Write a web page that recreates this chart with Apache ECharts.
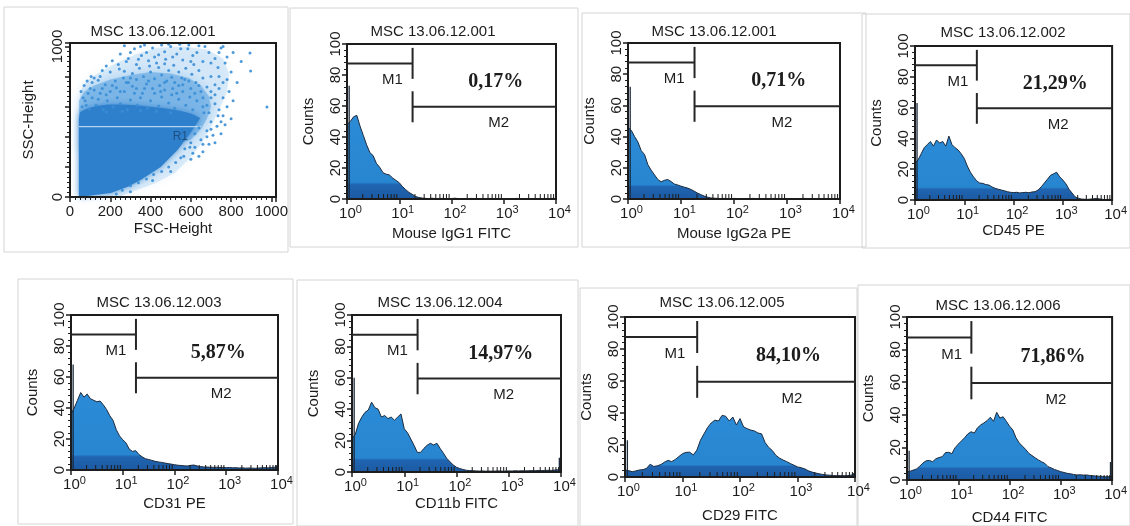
<!DOCTYPE html>
<html>
<head>
<meta charset="utf-8">
<script src="https://cdn.jsdelivr.net/npm/echarts@6/dist/echarts.min.js"></script>
<style>
  html, body { margin: 0; padding: 0; background: #ffffff; }
  #chart { width: 1130px; height: 526px; }
</style>
</head>
<body>
<div id="chart"></div>
<script>
// ---------- data ----------
// fluorescence channels, 16 per decade from 10^0 to 10^4
const channels = [
  1, 1.155, 1.334, 1.540, 1.778, 2.054, 2.371, 2.738, 3.162, 3.652, 4.217, 4.870, 5.623, 6.494, 7.499, 8.660,
  10, 11.55, 13.34, 15.40, 17.78, 20.54, 23.71, 27.38, 31.62, 36.52, 42.17, 48.70, 56.23, 64.94, 74.99, 86.60,
  100, 115.5, 133.4, 154.0, 177.8, 205.4, 237.1, 273.8, 316.2, 365.2, 421.7, 487.0, 562.3, 649.4, 749.9, 866.0,
  1000, 1155, 1334, 1540, 1778, 2054, 2371, 2738, 3162, 3652, 4217, 4870, 5623, 6494, 7499, 8660,
  10000
];

const countsIgG1 = [
  48, 50, 53, 54, 47, 41, 35, 30, 28, 23, 20.5, 17, 16, 15.5, 13.5, 12,
  10.5, 8, 6, 4.2, 3, 1.6, 1, 0.6, 0.4, 0.3, 0.5, 0.3, 0.2, 0.4, 0.3, 0.2,
  0.3, 0.5, 0.3, 0.2, 0.3, 0.2, 0.4, 0.3, 0.2, 0.3, 0.2, 0.3, 0.4, 0.2, 0.3, 0.2,
  0.3, 0.2, 0.3, 0.2, 0.4, 0.2, 0.3, 0.2, 0.3, 0.2, 0.3, 0.2, 0.3, 0.2, 0.3, 0.4,
  0.3
];
const countsIgG2a = [
  46, 44, 40, 36.5, 31, 28.5, 22, 18.5, 15.5, 12.5, 11, 12, 12.5, 11.2, 9.6, 9,
  8.2, 7.6, 7, 6.1, 5, 3.8, 2.8, 1.9, 1.2, 0.7, 0.5, 0.4, 0.3, 0.4, 0.3, 0.2,
  0.4, 0.3, 0.2, 0.3, 0.2, 0.3, 0.4, 0.2, 0.3, 0.2, 0.3, 0.2, 0.4, 0.3, 0.2, 0.3,
  0.2, 0.3, 0.2, 0.3, 0.2, 0.4, 0.3, 0.2, 0.3, 0.2, 0.3, 0.2, 0.3, 0.2, 0.3, 0.2,
  0.3
];
const countsCD45 = [
  24, 26, 30, 34, 36, 38, 35, 39, 37, 38, 35, 41.5, 36, 34, 32.5, 30,
  27, 22, 18, 15, 12.5, 11, 10.8, 10, 9.7, 8.5, 7.6, 7, 6.5, 6, 5.4, 5,
  4.8, 5, 4.6, 4.8, 5, 4.7, 5.2, 5.4, 6.5, 8.6, 11, 13.5, 16, 17, 18, 15,
  13, 10.5, 7, 4.5, 2, 1.2, 0.6, 0.5, 0.4, 0.6, 0.8, 1, 0.7, 0.4, 0.3, 0.4,
  0.3
];
const countsCD31 = [
  36, 40, 45, 50, 47, 49, 46, 45, 44, 44.5, 42, 39, 35, 32, 26, 22,
  19.5, 17.5, 13.5, 12, 12.5, 10, 8.5, 7.3, 6.8, 6.2, 5.6, 5.2, 4.9, 4.5, 4.1, 3.8,
  3.4, 3.1, 2.9, 2.7, 2.6, 3.0, 3.2, 2.6, 2.2, 2.0, 1.9, 1.8, 1.7, 1.8, 1.6, 1.7,
  1.5, 1.6, 1.4, 1.5, 1.3, 1.4, 1.2, 1.3, 1.2, 1.1, 1.3, 1.4, 1.5, 1.4, 1.6, 1.8,
  2
];
const countsCD11b = [
  21, 24, 31, 35, 38, 39.5, 44.5, 41, 40, 35, 36, 34, 35, 33, 35, 37,
  27.5, 25, 21, 17, 12.5, 12.5, 15, 17, 18.3, 17.2, 18.3, 15, 12, 8.7, 6.5, 4.5,
  3, 2.2, 1.6, 1.1, 0.9, 0.8, 0.7, 0.6, 0.7, 0.5, 0.6, 0.5, 0.6, 0.7, 0.5, 0.6,
  0.7, 0.6, 0.8, 0.7, 0.8, 0.7, 0.8, 0.9, 0.8, 1.0, 0.9, 1.0, 1.1, 1.0, 1.2, 1.5,
  1.5
];
const countsCD29 = [
  4.4, 4, 3.3, 3.8, 4.4, 4.6, 5.4, 8, 6.6, 7, 7.8, 9.3, 10.4, 9.6, 11, 12.8,
  14.6, 15.4, 15.5, 13.8, 16.8, 23, 27, 31, 33.8, 35.5, 35, 38.5, 38, 35, 37.5, 32.5,
  36.5, 31.3, 30.2, 29.3, 28.8, 27.5, 27, 21.5, 18.5, 16.5, 13.5, 11.8, 10.6, 9.6, 8.4, 7.4,
  6.3, 5.8, 5.1, 3.9, 3.1, 2.5, 2.0, 1.6, 1.3, 1.1, 0.9, 0.8, 0.9, 0.8, 0.9, 1.2,
  1.9
];
const countsCD44 = [
  5, 5.4, 6.1, 6.8, 8.5, 10.5, 11.8, 12, 11.2, 13, 13.8, 14.3, 16.8, 17, 16.2, 19.8,
  22, 24, 26, 28.3, 29.6, 28.8, 32, 33.8, 35, 36.4, 38.5, 36, 41.5, 38, 38.8, 36,
  33, 30.8, 26, 22.8, 20.8, 18.8, 16.4, 15, 13.6, 12.3, 11.2, 10.2, 8.2, 7.4, 6.5, 5.8,
  5.1, 4.6, 4.1, 3.8, 3.4, 3.1, 3.2, 3.0, 3.1, 2.8, 2.6, 2.4, 2.3, 2.2, 2.0, 2.1,
  2.1
];

const histogramCounts = [countsIgG1, countsIgG2a, countsCD45, countsCD31, countsCD11b, countsCD29, countsCD44];
// pile-up in the first and last channel of each histogram
const firstChannelPeak = [73, 72, 63, 68, 60, 23, 18];
const lastChannelPeak = [0, 0, 0, 3, 9, 2.5, 11];

const sampleIds = [
  'MSC 13.06.12.001', 'MSC 13.06.12.001', 'MSC 13.06.12.001', 'MSC 13.06.12.002',
  'MSC 13.06.12.003', 'MSC 13.06.12.004', 'MSC 13.06.12.005', 'MSC 13.06.12.006'
];
const parameterNames = [
  'FSC-Height', 'Mouse IgG1 FITC', 'Mouse IgG2a PE', 'CD45 PE',
  'CD31 PE', 'CD11b FITC', 'CD29 FITC', 'CD44 FITC'
];
const positivePct = ['0,17%', '0,71%', '21,29%', '5,87%', '14,97%', '84,10%', '71,86%'];

// markers M1 / M2
const markerNames = ['M1', 'M2'];
const gateSplit = 18;
const m1Level = 87.5;
const m2Level = 59.5;

const decadeMinorTicks = [
  2, 3, 4, 5, 6, 7, 8, 9,
  20, 30, 40, 50, 60, 70, 80, 90,
  200, 300, 400, 500, 600, 700, 800, 900,
  2000, 3000, 4000, 5000, 6000, 7000, 8000, 9000
];

// FSC / SSC dot plot (0-1023 linear channels)
const coreOutline = [
  [44, 0], [203, 27], [290, 70], [351, 113], [450, 199], [534, 312], [598, 425], [647, 525],
  [600, 555], [540, 575], [470, 590], [400, 600], [330, 610], [260, 615], [190, 615],
  [130, 605], [80, 585], [50, 565], [44, 520]
];
const innerCloudOutline = [
  [44, 300], [44, 640], [70, 700], [120, 740], [200, 780], [300, 810], [400, 830], [500, 820],
  [590, 790], [650, 740], [690, 670], [700, 600], [680, 520], [650, 450], [600, 380], [400, 300]
];
const outerCloudOutline = [
  [44, 0], [44, 500], [50, 700], [80, 770], [150, 830], [230, 890], [330, 950], [430, 990],
  [560, 1000], [680, 980], [760, 920], [790, 820], [780, 700], [740, 580], [700, 470],
  [650, 350], [590, 250], [520, 160], [420, 90], [320, 40], [240, 0]
];
const sparseEvents = [
  [60,600],[75,640],[95,585],[110,660],[130,610],[150,690],[165,580],[185,640],[200,700],[215,600],
  [235,660],[250,620],[270,700],[285,580],[300,645],[320,690],[335,610],[350,660],[370,720],[385,590],
  [400,640],[420,690],[440,605],[455,665],[470,710],[490,625],[505,680],[520,590],[540,650],[560,700],
  [575,610],[595,665],[610,580],[630,640],[650,700],[120,710],[90,690],[230,725],[310,735],[445,740],
  [560,745],[680,610],[700,660],[665,560],[180,565],[260,570],[350,575],[430,570],[500,560],[140,650],
  [110,760],[150,800],[175,745],[200,830],[225,770],[245,850],[265,790],[290,760],[310,820],[330,780],
  [345,855],[365,800],[380,750],[400,830],[420,785],[440,860],[455,810],[470,760],[490,840],[505,795],
  [520,760],[540,830],[555,790],[575,855],[590,770],[605,815],[625,760],[640,840],[660,790],[680,730],
  [700,800],[720,745],[270,835],[395,870],[515,875],[615,880],[160,840],[330,880],[470,885],[735,860],
  [210,905],[250,950],[290,920],[320,985],[355,940],[390,905],[410,990],[440,945],[475,915],[500,1000],
  [530,950],[560,910],[585,985],[610,940],[640,1005],[660,900],[690,960],[720,920],[750,990],[780,930],
  [270,1005],[455,1010],[545,1015],[810,960],[370,1010],
  [660,600],[690,560],[720,620],[740,580],[700,500],[730,470],[760,540],[680,440],[710,410],[650,380],
  [690,350],[620,330],[660,300],[750,420],[780,600],[800,520],[770,480],[720,360],[640,270],[600,250],
  [230,20],[260,45],[300,75],[340,95],[380,120],[415,150],[455,170],[490,200],[525,230],[565,270],
  [595,330],[300,35],[410,110],[500,170],
  [894,956],[978,598],[897,837],[760,1000],[850,900],
  [180,870],[240,880],[280,900],[340,915],[380,960],[420,930],[470,965],[510,930],[550,985],[600,900],
  [630,960],[670,1000],[700,890],[740,960],[770,890],[300,960],[350,1000],[490,1015],[590,1010],[430,890],
  [700,700],[740,720],[760,660],[790,700],[780,780],[740,800],[810,640],[760,760],[720,680],[800,830],
  [830,760],[700,450],[750,500],[735,540],
  [55,700],[70,740],[85,770],[100,720],[120,790],[65,660],[80,610],[140,775],[105,800],
  [180,680],[210,740],[250,700],[280,760],[330,720],[360,690],[390,770],[410,720],[450,700],[480,770],
  [510,720],[530,690],[570,780],[600,720],[620,690],[660,660],[640,740],[540,740],[300,790],[160,720],
  [620,420],[640,460],[600,360],[570,320],[610,290],[550,260],[680,400],[660,350]
];
const regionR1 = { name: 'R1', fsc: [45, 650], ssc: 467, labelAt: [548, 398] };

// ---------- layout & style ----------
const SANS = '"Liberation Sans", Arial, Helvetica, sans-serif';
const SERIF = '"Liberation Serif", "Times New Roman", serif';
const INK = '#1c1c1c';

// plot boxes: [left, top, width, height]
const boxes = [
  [70, 43, 206, 154],
  [347, 44, 209, 155],
  [628, 43, 212, 156],
  [915, 46, 205, 154],
  [71, 315, 207, 155],
  [352, 315, 209, 157],
  [625, 317, 230, 160],
  [907, 317, 215, 163]
];
const titleAt = [[153, 32], [433, 32], [714, 32], [1003, 33], [159, 303], [440, 303], [722, 303], [998, 306]];
const xNameGap = [24, 27, 27, 23, 26, 24, 31, 30];
const panelFrames = [
  [4, 7, 284, 245], [290, 8, 288, 239], [582, 13, 284, 234], [862, 14, 268, 234],
  [18, 279, 275, 245], [297, 280, 281, 246], [580, 288, 277, 238], [858, 285, 272, 241]
];

const grids = boxes.map(b => ({
  left: b[0], top: b[1], width: b[2], height: b[3],
  show: true, borderColor: INK, borderWidth: 2, backgroundColor: 'transparent', z: 4
}));

const axisLineStyle = { show: true, onZero: false, lineStyle: { color: INK, width: 2 } };

const xAxes = [];
const yAxes = [];

// dot plot axes
xAxes.push({
  type: 'value', gridIndex: 0, min: 0, max: 1023, interval: 200, z: 5,
  name: parameterNames[0], nameLocation: 'middle', nameGap: xNameGap[0],
  nameTextStyle: { fontFamily: SANS, fontSize: 15, color: INK },
  axisLine: axisLineStyle,
  axisTick: { show: true, length: 5, lineStyle: { color: INK, width: 1.5 } },
  minorTick: { show: true, splitNumber: 8, length: 3, lineStyle: { color: INK, width: 1 } },
  splitLine: { show: false },
  axisLabel: { showMaxLabel: false, margin: 7, fontFamily: SANS, fontSize: 15, color: INK,
    formatter: v => String(v) }
});
yAxes.push({
  type: 'value', gridIndex: 0, min: 0, max: 1023, interval: 200, z: 5,
  name: 'SSC-Height', nameLocation: 'middle', nameGap: 34, nameRotate: 90,
  nameTextStyle: { fontFamily: SANS, fontSize: 15, color: INK },
  axisLine: axisLineStyle,
  axisTick: { show: true, length: 5, lineStyle: { color: INK, width: 1.5 } },
  minorTick: { show: true, splitNumber: 6, length: 3, lineStyle: { color: INK, width: 1 } },
  splitLine: { show: false },
  axisLabel: {
    rotate: 90, margin: 5, showMaxLabel: false, fontFamily: SANS, fontSize: 15, color: INK,
    formatter: v => (v === 0 || v === 1000) ? String(v) : ''
  }
});

// histogram axes
for (let i = 1; i < 8; i++) {
  xAxes.push({
    type: 'log', logBase: 10, gridIndex: i, min: 1, max: 10000, z: 5,
    name: parameterNames[i], nameLocation: 'middle', nameGap: xNameGap[i],
    nameTextStyle: { fontFamily: SANS, fontSize: 15, color: INK },
    axisLine: axisLineStyle,
    axisTick: { show: true, length: 5, lineStyle: { color: INK, width: 1.5 } },
    splitLine: { show: false },
    axisLabel: {
      margin: 5, interval: 0,
      formatter: v => '{b|10}{s|' + Math.round(Math.log10(v)) + '}',
      rich: {
        b: { fontFamily: SANS, fontSize: 15, color: INK, lineHeight: 19, padding: [0, 0, 0, 7] },
        s: { fontFamily: SANS, fontSize: 11, color: INK, lineHeight: 11, verticalAlign: 'top' }
      }
    }
  });
  yAxes.push({
    type: 'value', gridIndex: i, min: 0, max: 100, interval: 20, z: 5,
    name: 'Counts', nameLocation: 'middle', nameGap: 31, nameRotate: 90,
    nameTextStyle: { fontFamily: SANS, fontSize: 15, color: INK },
    axisLine: axisLineStyle,
    axisTick: { show: true, length: 5, lineStyle: { color: INK, width: 1.5 } },
    minorTick: { show: true, splitNumber: 5, length: 3, lineStyle: { color: INK, width: 1 } },
    splitLine: { show: false },
    axisLabel: { rotate: 90, margin: 4, fontFamily: SANS, fontSize: 15, color: INK }
  });
}

const series = [];

// dot plot: population haze, dense core, gate line and label, sparse events
series.push({
  type: 'custom', xAxisIndex: 0, yAxisIndex: 0, silent: true, z: 2,
  data: [[0, 0]],
  renderItem: (params, api) => {
    const a = api.coord([regionR1.fsc[0], regionR1.ssc]);
    const b = api.coord([regionR1.fsc[1], regionR1.ssc]);
    const t = api.coord(regionR1.labelAt);
    return {
      type: 'group',
      children: [
        { type: 'polygon', shape: { points: outerCloudOutline.map(p => api.coord(p)) },
          style: { fill: 'rgba(96,170,230,0.20)', shadowBlur: 10, shadowColor: 'rgba(96,170,230,0.45)' } },
        { type: 'polygon', shape: { points: innerCloudOutline.map(p => api.coord(p)) },
          style: { fill: 'rgba(64,148,220,0.45)', shadowBlur: 10, shadowColor: 'rgba(64,148,220,0.6)' } },
        { type: 'polygon', shape: { points: coreOutline.map(p => api.coord(p)) },
          style: { fill: '#2f80cc', shadowBlur: 6, shadowColor: 'rgba(47,128,204,0.8)' } },
        { type: 'line', shape: { x1: a[0], y1: a[1], x2: b[0], y2: b[1] },
          style: { stroke: 'rgba(214,232,248,0.8)', lineWidth: 1.2 } },
        { type: 'text', style: { text: regionR1.name, x: t[0], y: t[1], fill: '#1f4f82',
          font: '12px ' + SANS, align: 'center', verticalAlign: 'middle',
          textAlign: 'center', textVerticalAlign: 'middle' } }
      ]
    };
  }
});
series.push({
  type: 'scatter', xAxisIndex: 0, yAxisIndex: 0, silent: true, z: 3,
  symbol: 'circle', symbolSize: 3,
  itemStyle: { color: '#3a8ed6', opacity: 0.9 },
  data: sparseEvents
});

// histograms
for (let k = 0; k < 7; k++) {
  const gi = k + 1;
  series.push({
    type: 'line', xAxisIndex: gi, yAxisIndex: gi, silent: true, z: 2,
    symbol: 'none', smooth: false,
    lineStyle: { color: '#1d2b3d', width: 1 },
    areaStyle: {
      opacity: 1,
      color: new echarts.graphic.LinearGradient(0, 0, 0, 1, [
        { offset: 0, color: '#2c8bd6' },
        { offset: 0.8, color: '#2886d1' },
        { offset: 0.83, color: '#2064b0' },
        { offset: 1, color: '#1c5aa3' }
      ])
    },
    data: channels.map((c, i) => [c, histogramCounts[k][i]])
  });
  series.push({
    type: 'line', xAxisIndex: gi, yAxisIndex: gi, silent: true, z: 3,
    symbol: 'none', lineStyle: { color: '#1d2b3d', width: 1.3 },
    data: [[1.1, 0], [1.1, firstChannelPeak[k]]]
  });
  if (lastChannelPeak[k] > 0) {
    series.push({
      type: 'line', xAxisIndex: gi, yAxisIndex: gi, silent: true, z: 3,
      symbol: 'none', lineStyle: { color: '#1d2b3d', width: 1.3 },
      data: [[9300, 0], [9300, lastChannelPeak[k]]]
    });
  }
  // M1 / M2 markers and percentage of events in M2
  series.push({
    type: 'custom', xAxisIndex: gi, yAxisIndex: gi, silent: true, z: 6, clip: false,
    data: [[gateSplit, m1Level]],
    renderItem: (params, api) => {
      const m1a = api.coord([1, m1Level]);
      const m1b = api.coord([gateSplit, m1Level]);
      const m1t = api.coord([gateSplit, m1Level + 10]);
      const m1u = api.coord([gateSplit, m1Level - 10]);
      const m2a = api.coord([gateSplit, m2Level]);
      const m2b = api.coord([10000, m2Level]);
      const m2t = api.coord([gateSplit, m2Level + 10]);
      const m2u = api.coord([gateSplit, m2Level - 10]);
      const l1 = api.coord([7.4, 77]);
      const l2 = api.coord([800, 49]);
      const lp = api.coord([700, 75.5]);
      const stroke = { stroke: '#262626', lineWidth: 2 };
      const label = (txt, p, font) => ({
        type: 'text',
        style: { text: txt, x: p[0], y: p[1], fill: INK, font: font,
          align: 'center', verticalAlign: 'middle', textAlign: 'center', textVerticalAlign: 'middle' }
      });
      return {
        type: 'group',
        children: [
          { type: 'line', shape: { x1: m1a[0], y1: m1a[1], x2: m1b[0], y2: m1b[1] }, style: stroke },
          { type: 'line', shape: { x1: m1t[0], y1: m1t[1], x2: m1u[0], y2: m1u[1] }, style: stroke },
          { type: 'line', shape: { x1: m2a[0], y1: m2a[1], x2: m2b[0], y2: m2b[1] }, style: stroke },
          { type: 'line', shape: { x1: m2t[0], y1: m2t[1], x2: m2u[0], y2: m2u[1] }, style: stroke },
          label(markerNames[0], l1, '15px ' + SANS),
          label(markerNames[1], l2, '15px ' + SANS),
          label(positivePct[k], lp, 'bold 20px ' + SERIF)
        ]
      };
    }
  });
  // logarithmic minor ticks along the x axis
  series.push({
    type: 'custom', xAxisIndex: gi, yAxisIndex: gi, silent: true, z: 7,
    data: decadeMinorTicks.map(v => [v, 0]),
    renderItem: (params, api) => {
      const p = api.coord([api.value(0), 0]);
      return { type: 'line', shape: { x1: p[0], y1: p[1] - 5, x2: p[0], y2: p[1] },
        style: { stroke: INK, lineWidth: 1 } };
    }
  });
}

// sample titles and light panel frames
const graphics = [];
panelFrames.forEach(f => graphics.push({
  type: 'rect', shape: { x: f[0], y: f[1], width: f[2], height: f[3] },
  style: { fill: 'none', stroke: '#d4d4d4', lineWidth: 1 }, z: 0, silent: true
}));
sampleIds.forEach((s, i) => graphics.push({
  type: 'text', x: titleAt[i][0], y: titleAt[i][1], z: 10, silent: true,
  style: { text: s, font: '15px ' + SANS, fill: INK,
    align: 'center', verticalAlign: 'middle', textAlign: 'center', textVerticalAlign: 'middle' }
}));

const chart = echarts.init(document.getElementById('chart'));
chart.setOption({
  animation: false,
  backgroundColor: '#ffffff',
  grid: grids,
  xAxis: xAxes,
  yAxis: yAxes,
  series: series,
  graphic: { elements: graphics }
});
</script>
</body>
</html>
